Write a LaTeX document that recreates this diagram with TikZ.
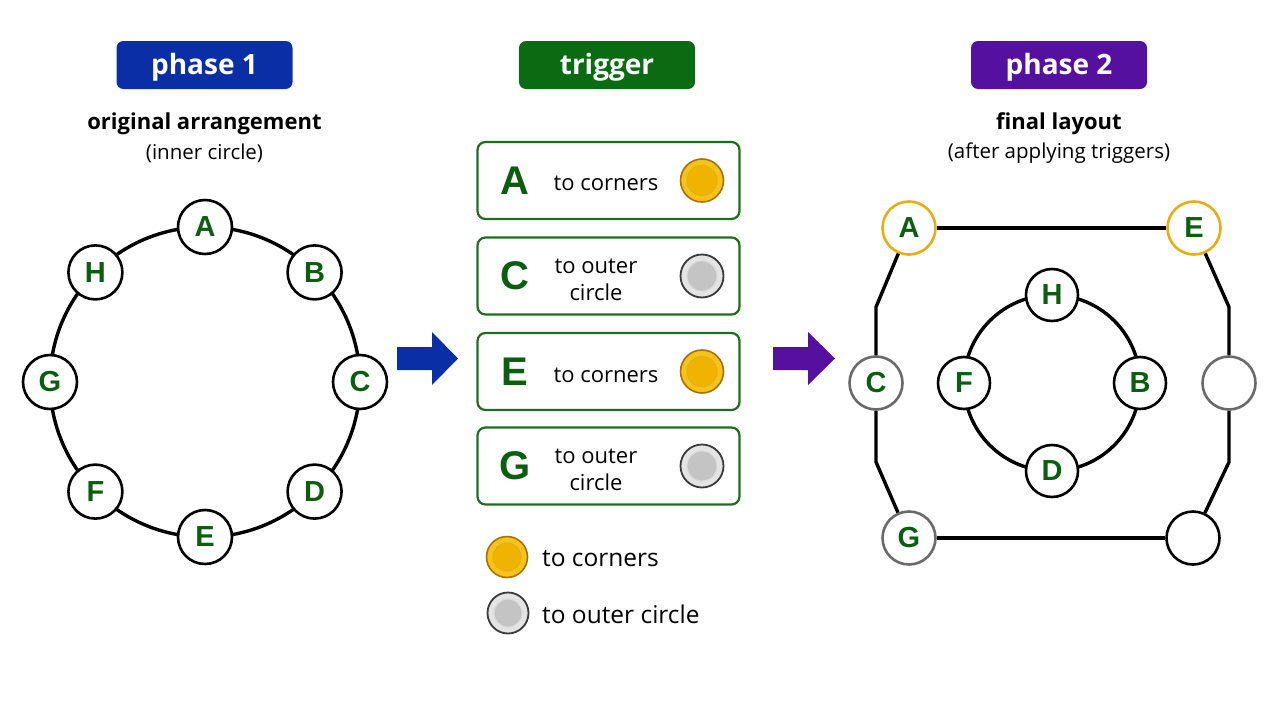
\documentclass[tikz,border=0pt]{standalone}
\usepackage{fontspec}
\usetikzlibrary{calc}
\setmainfont{Open Sans}
\newfontfamily\letterfont{Liberation Sans}
\definecolor{hblue}{HTML}{0A2EA6}
\definecolor{hgreen}{HTML}{0B6B13}
\definecolor{hpurple}{HTML}{5510A0}
\definecolor{lgreen}{HTML}{0B5E0F}
\definecolor{boxgreen}{HTML}{1E6E1E}
\definecolor{goldfill}{HTML}{F7C21A}
\definecolor{goldin}{HTML}{F0B400}
\definecolor{goldedge}{HTML}{A8700A}
\definecolor{goldring}{HTML}{E6AE12}
\definecolor{grayfill}{HTML}{E4E4E4}
\definecolor{grayin}{HTML}{C4C4C4}
\definecolor{grayedge}{HTML}{3A3A3A}
\definecolor{nodegray}{HTML}{6A6A6A}
\begin{document}
\begin{tikzpicture}[x=1pt,y=-1pt,
  header/.style={fill=#1, rounded corners=7pt, minimum width=176pt, minimum height=48pt, inner sep=0pt},
  headtext/.style={text=white, font=\fontsize{28}{30}\selectfont\bfseries, inner sep=0pt},
  title/.style={font=\fontsize{22}{26}\selectfont\bfseries, inner sep=0pt},
  subtitle/.style={font=\fontsize{20.5}{25}\selectfont, inner sep=0pt},
  vtx/.style={circle, draw=black, line width=2.6pt, fill=white, minimum size=#1, inner sep=0pt,
     text=lgreen, font=\letterfont\fontsize{29}{30}\selectfont\bfseries},
  vtx/.default=54pt,
  edge/.style={line width=3.4pt, black},
  trig/.style={draw=boxgreen, line width=2.2pt, rounded corners=8pt, minimum width=262pt, minimum height=77pt, inner sep=0pt},
  bigletter/.style={text=lgreen, font=\letterfont\fontsize{40}{42}\selectfont\bfseries, inner sep=0pt},
  trigtext/.style={font=\fontsize{22}{27}\selectfont, align=center, inner sep=0pt},
  goldcoin/.style={circle, fill=goldfill, draw=goldedge, line width=1.6pt, minimum size=#1, inner sep=0pt},
  goldcoin/.default=43pt,
  goldinner/.style={circle, fill=goldin, draw=goldring, line width=1pt, minimum size=#1, inner sep=0pt},
  goldinner/.default=30pt,
  graycoin/.style={circle, fill=grayfill, draw=grayedge, line width=1.8pt, minimum size=#1, inner sep=0pt},
  graycoin/.default=43pt,
  grayinner/.style={circle, fill=grayin, draw=white!70!gray, line width=1pt, minimum size=#1, inner sep=0pt},
  grayinner/.default=30pt,
  legtext/.style={font=\fontsize{24.5}{27}\selectfont, anchor=west, inner sep=0pt}
]
\useasboundingbox (0,0) rectangle (1280,720);
\fill[white] (0,0) rectangle (1280,720);

% headers
\node[header=hblue] (h1) at (204.5,65) {};
\node[header=hgreen] (h2) at (607,65) {};
\node[header=hpurple] (h3) at (1059,65) {};
\node[headtext] (h1t) at ($(h1)+(0,2.5)$) {phase 1};
\node[headtext] (h2t) at ($(h2)+(0,2.5)$) {trigger};
\node[headtext] (h3t) at ($(h3)+(0,2.5)$) {phase 2};
\node[title] (t1) at (204.5,123.5) {original arrangement};
\node[subtitle] (s1) at (204.5,153) {(inner circle)};
\node[title] (t3) at (1059,123.5) {final layout};
\node[subtitle] (s3) at (1059,153) {(after applying triggers)};

% phase 1 circle
\coordinate (c1) at (205,382);
\draw[edge] (c1) circle[radius=155pt];
\foreach \n/\a in {A/90,B/45,C/0,D/-45,E/-90,F/-135,G/180,H/135}{
  \node[vtx] (L\n) at ($(c1)+({155*cos(\a)},{-155*sin(\a)})$) {\n};
}

% arrows
\fill[hblue] (397,347) -- (432,347) -- (432,332) -- (458,358.5) -- (432,385) -- (432,370) -- (397,370) -- cycle;
\fill[hpurple] (773,347) -- (808,347) -- (808,332) -- (835,358.5) -- (808,385) -- (808,370) -- (773,370) -- cycle;

% trigger boxes
\foreach \i/\y/\L/\kind in {1/180.5/A/gold,2/276/C/gray,3/371.5/E/gold,4/466/G/gray}{
  \node[trig] (b\i) at (608.5,\y) {};
  \node[bigletter] (bl\i) at (515,\y) {\L};
  \node[\kind coin] (bc\i) at (702,\y) {};
  \node[\kind inner] (bi\i) at (bc\i) {};
}
\node[trigtext] (bt1) at (606,183) {to corners};
\node[trigtext] (bt2) at (596,280) {to outer\\circle};
\node[trigtext] (bt3) at (606,375) {to corners};
\node[trigtext] (bt4) at (596,470) {to outer\\circle};

% legend
\node[goldcoin=41pt] (lg1) at (507,557) {};
\node[goldinner=28pt] (lg1i) at (lg1) {};
\node[legtext] (lt1) at (542,559) {to corners};
\node[graycoin=41pt] (lg2) at (508,613) {};
\node[grayinner=28pt] (lg2i) at (lg2) {};
\node[legtext] (lt2) at (542,614) {to outer circle};

% phase 2 inner circle
\coordinate (c2) at (1052,383);
\draw[edge] (c2) circle[radius=88pt];
\node[vtx=52pt] (RH) at (1052,295) {H};
\node[vtx=52pt] (RB) at (1140,383) {B};
\node[vtx=52pt] (RD) at (1052,471) {D};
\node[vtx=52pt] (RF) at (964,383) {F};

% phase 2 outer
\node[vtx=53pt, draw=goldring] (RA) at (909,228) {A};
\node[vtx=53pt, draw=goldring] (RE) at (1194,228) {E};
\node[vtx=53pt, draw=nodegray] (RC) at (876,383) {C};
\node[vtx=53pt, draw=nodegray] (RX) at (1229,383) {};
\node[vtx=53pt, draw=nodegray] (RG) at (909,538) {G};
\node[vtx=53pt] (RY) at (1193,538) {};
\coordinate (p1) at (876,307);
\coordinate (p2) at (876,462);
\coordinate (p3) at (1229,307);
\coordinate (p4) at (1229,462);
\draw[edge] (RA) -- (p1) -- (RC);
\draw[edge] (RC) -- (p2) -- (RG);
\draw[edge] (RE) -- (p3) -- (RX);
\draw[edge] (RX) -- (p4) -- (RY);
\draw[edge] (RA) -- (RE);
\draw[edge] (RG) -- (RY);
\end{tikzpicture}
\end{document}
